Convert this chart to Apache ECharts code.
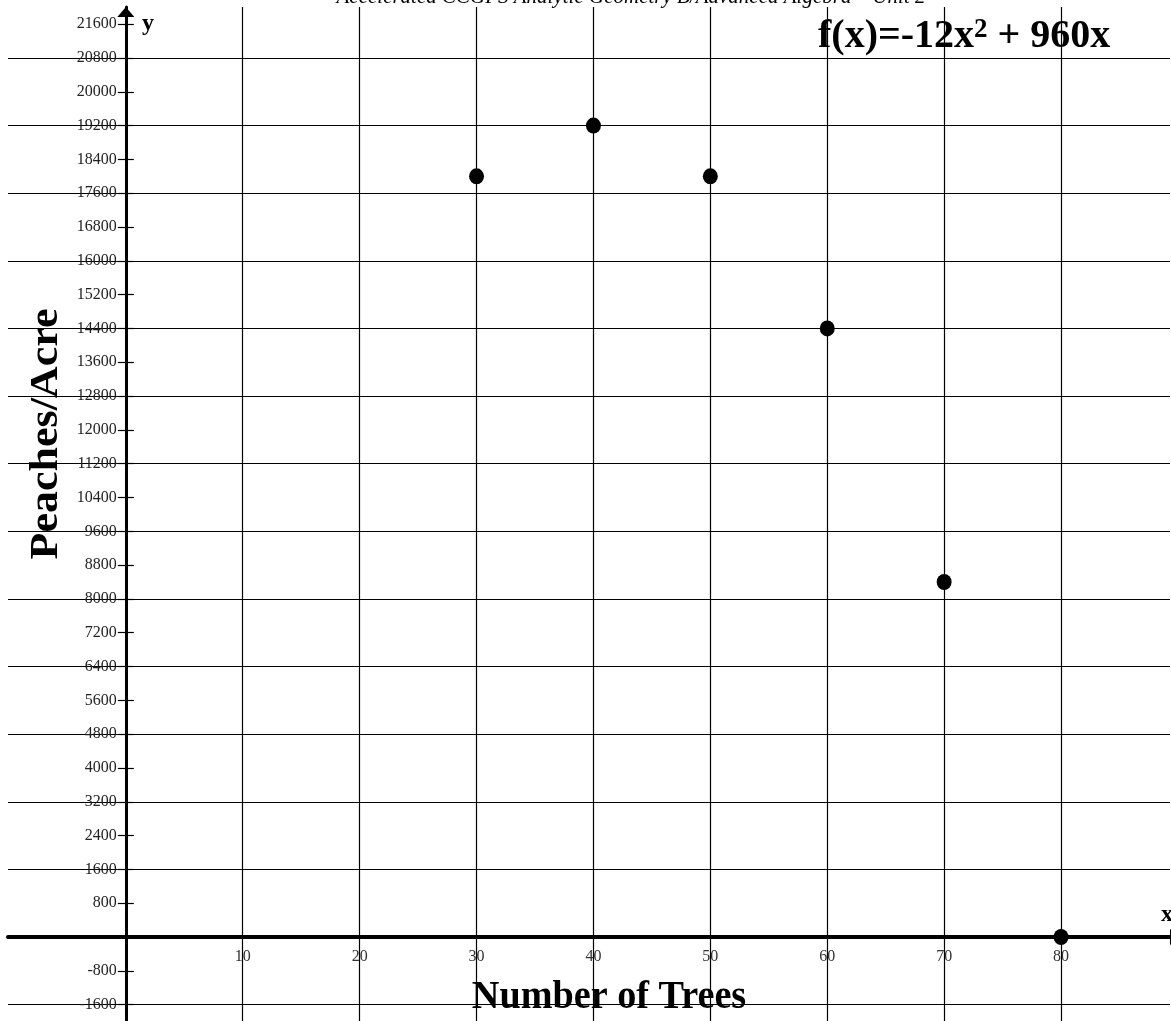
<!DOCTYPE html>
<html>
<head>
<meta charset="utf-8">
<script src="https://cdn.jsdelivr.net/npm/echarts@6/dist/echarts.min.js"></script>
<style>
html,body{margin:0;padding:0;background:#fff;}
#chart{width:1171px;height:1021px;}
</style>
</head>
<body>
<div id="chart"></div>
<script>
// ---- data ----
const treeCounts = [30, 40, 50, 60, 70, 80];
const peachesPerAcre = [18000, 19200, 18000, 14400, 8400, 0];
const xTickLabels = [10, 20, 30, 40, 50, 60, 70, 80];
const xGridValues = [0, 10, 20, 30, 40, 50, 60, 70, 80];
const yTickLabels = [-1600, -800, 800, 1600, 2400, 3200, 4000, 4800, 5600, 6400, 7200, 8000, 8800, 9600, 10400, 11200, 12000, 12800, 13600, 14400, 15200, 16000, 16800, 17600, 18400, 19200, 20000, 20800, 21600];
const yTickValues = [-1600, -800, 0, 800, 1600, 2400, 3200, 4000, 4800, 5600, 6400, 7200, 8000, 8800, 9600, 10400, 11200, 12000, 12800, 13600, 14400, 15200, 16000, 16800, 17600, 18400, 19200, 20000, 20800, 21600];
const yGridValues = [-1600, 1600, 3200, 4800, 6400, 8000, 9600, 11200, 12800, 14400, 16000, 17600, 19200, 20800];
const headerText = 'Accelerated CCGPS Analytic Geometry B/Advanced Algebra \u2013 Unit 2';
const xTitle = 'Number of Trees';
const yTitle = 'Peaches/Acre';

const chart = echarts.init(document.getElementById('chart'), null, {renderer: 'canvas'});
const serif = 'Liberation Serif';
const X_MIN = -10.08, X_MAX = 89.32, Y_MIN = -1988, Y_MAX = 22007;
// grid geometry
const G_LEFT = 8, G_TOP = 7, G_W = 1162, G_H = 1014;
const xPx = G_W / (X_MAX - X_MIN);
const yPx = G_H / (Y_MAX - Y_MIN);
const yAxisOffset = -(-X_MIN * xPx);          // move y axis to x = 0
const xAxisOffset = -(-Y_MIN * yPx);          // move x axis up to y = 0

const option = {
  animation: false,
  backgroundColor: '#fff',
  grid: {left: G_LEFT, top: G_TOP, width: G_W, height: G_H, containLabel: false, outerBoundsMode: 'none'},
  xAxis: {
    type: 'value', min: X_MIN, max: X_MAX, position: 'bottom', offset: xAxisOffset,
    axisLine: {show: true, onZero: false, lineStyle: {color: '#000', width: 4},
      symbol: ['none', 'triangle'], symbolSize: [16, 10], symbolOffset: [0, 5]},
    axisTick: {show: false, customValues: xGridValues},
    axisLabel: {show: true, customValues: xTickLabels, formatter: v => String(v),
      fontFamily: serif, fontSize: 16, color: '#333', margin: 12},
    splitLine: {show: true, lineStyle: {color: '#000', width: 1.2}}
  },
  yAxis: [
    {
      type: 'value', min: Y_MIN, max: Y_MAX, position: 'left', offset: yAxisOffset,
      axisLine: {show: true, onZero: false, lineStyle: {color: '#000', width: 3},
        symbol: ['none', 'triangle'], symbolSize: [17, 10], symbolOffset: [0, -5]},
      axisTick: {show: true, length: 8, customValues: yTickValues, lineStyle: {color: '#000', width: 1.2}},
      axisLabel: {show: true, customValues: yTickLabels, formatter: v => String(v),
        fontFamily: serif, fontSize: 16, color: '#222', margin: 9},
      splitLine: {show: false}
    },
    {
      type: 'value', min: Y_MIN, max: Y_MAX, position: 'left',
      axisLine: {show: false, onZero: false},
      axisTick: {show: false, customValues: yGridValues},
      axisLabel: {show: false},
      splitLine: {show: true, lineStyle: {color: '#000', width: 1.2}}
    },
    {
      type: 'value', min: Y_MIN, max: Y_MAX, position: 'left', offset: yAxisOffset,
      axisLine: {show: false, onZero: false},
      axisTick: {show: true, inside: true, length: 8, customValues: yTickValues, lineStyle: {color: '#000', width: 1.2}},
      axisLabel: {show: false},
      splitLine: {show: false}
    }
  ],
  series: [{
    type: 'scatter',
    xAxisIndex: 0, yAxisIndex: 0,
    data: treeCounts.map((x, i) => [x, peachesPerAcre[i]]),
    symbol: 'circle', symbolSize: [15, 16],
    itemStyle: {color: '#000', opacity: 1},
    z: 10
  }],
  graphic: [
    {type: 'text', x: 631, y: 8, z: 100, scaleX: 1.05,
      style: {text: headerText, font: 'italic 20px "Liberation Serif"', fill: '#000',
        align: 'center', textAlign: 'center', verticalAlign: 'bottom', textVerticalAlign: 'bottom'}},
    {type: 'text', x: 818, y: 57, z: 100,
      style: {text: '{a|f(x)=-12x}{s|2}{a| + 960x}', fill: '#000',
        align: 'left', textAlign: 'left', verticalAlign: 'bottom', textVerticalAlign: 'bottom',
        rich: {
          a: {font: 'bold 40px "Liberation Serif"', fill: '#000', lineHeight: 40},
          s: {font: 'bold 27px "Liberation Serif"', fill: '#000', verticalAlign: 'top', lineHeight: 40}
        }}},
    {type: 'text', x: 609, y: 998, z: 100, scaleX: 0.955,
      style: {text: xTitle, font: 'bold 40px "Liberation Serif"', fill: '#000',
        align: 'center', textAlign: 'center', verticalAlign: 'middle', textVerticalAlign: 'middle'}},
    {type: 'text', x: 47, y: 434, z: 100, rotation: Math.PI / 2, scaleX: 1.1,
      style: {text: yTitle, font: 'bold 40px "Liberation Serif"', fill: '#000',
        align: 'center', textAlign: 'center', verticalAlign: 'middle', textVerticalAlign: 'middle'}},
    {type: 'text', x: 148, y: 24, z: 100,
      style: {text: 'y', font: 'bold 24px "Liberation Serif"', fill: '#000',
        align: 'center', textAlign: 'center', verticalAlign: 'middle', textVerticalAlign: 'middle'}},
    {type: 'text', x: 1167, y: 915, z: 100,
      style: {text: 'x', font: 'bold 24px "Liberation Serif"', fill: '#000',
        align: 'center', textAlign: 'center', verticalAlign: 'middle', textVerticalAlign: 'middle'}}
  ]
};
chart.setOption(option);
</script>
</body>
</html>
